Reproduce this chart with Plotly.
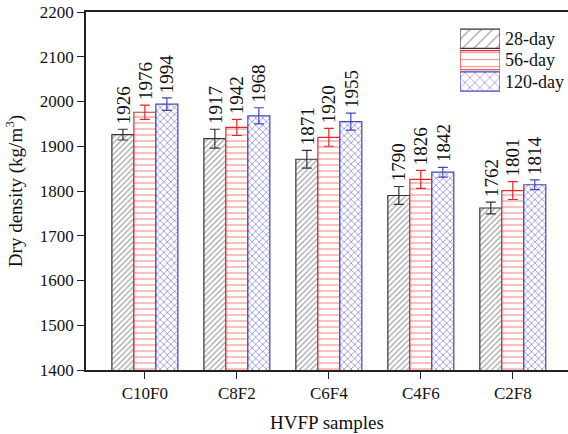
import plotly.graph_objects as go

# Sample mixes and curing ages
samples = ["C10F0", "C8F2", "C6F4", "C4F6", "C2F8"]
ages = ["28-day", "56-day", "120-day"]

# Dry density (kg/m3) per curing age
density_28 = [1926, 1917, 1871, 1790, 1762]
density_56 = [1976, 1942, 1920, 1826, 1801]
density_120 = [1994, 1968, 1955, 1842, 1814]

# Standard deviations (error bars)
err_28 = [12, 21, 20, 20, 13]
err_56 = [16, 18, 20, 20, 20]
err_120 = [14, 18, 19, 11, 11]

series = [density_28, density_56, density_120]
errors = [err_28, err_56, err_120]

line_colors = ["#333333", "#e8262a", "#4444bb"]
hatch_colors = ["#444444", "#ee2a2a", "#3535b5"]
shapes_ = ["/", "-", "x"]
bar_sizes = [4, 6, 5]
bar_solid = [0.3, 0.2, 0.32]
key_sizes = [8, 7, 7]
key_solid = [0.15, 0.16, 0.22]

FONT = "Liberation Serif"
BAR_W = 0.239
offsets = [-BAR_W, 0.0, BAR_W]

fig = go.Figure()

for i, (name, vals, errs) in enumerate(zip(ages, series, errors)):
    fig.add_trace(go.Bar(
        x=samples, y=vals, name=name, width=BAR_W,
        marker=dict(
            color="white",
            line=dict(color=line_colors[i], width=1.2),
            pattern=dict(shape=shapes_[i], fgcolor=hatch_colors[i], bgcolor="white",
                         size=bar_sizes[i], solidity=bar_solid[i], fillmode="overlay"),
        ),
        error_y=dict(type="data", array=errs, visible=True, color=line_colors[i],
                     thickness=1.2, width=5),
        showlegend=False,
    ))
    # value labels above each error bar
    for j, (v, e) in enumerate(zip(vals, errs)):
        fig.add_annotation(
            x=j + offsets[i], y=v + e, xref="x", yref="y",
            text=str(v), textangle=-90, showarrow=False,
            xanchor="center", yanchor="bottom", yshift=3,
            font=dict(family=FONT, size=19, color="#111"),
        )

# Legend swatches drawn as bars on a small overlay axis
fig.add_trace(go.Bar(
    x=[1, 1, 1], y=[0, 1, 2], base=0, orientation="h", width=0.9,
    xaxis="x2", yaxis="y2", showlegend=False, hoverinfo="skip",
    marker=dict(
        color="white",
        line=dict(color=line_colors, width=1.2),
        pattern=dict(shape=shapes_, fgcolor=hatch_colors, bgcolor="white",
                     size=key_sizes, solidity=key_solid, fillmode="overlay"),
    ),
))
for k, name in enumerate(ages):
    fig.add_annotation(
        x=0.866, y=k, xref="paper", yref="y2", text=name, showarrow=False,
        xanchor="left", yanchor="middle",
        font=dict(family=FONT, size=18, color="#111"),
    )

fig.update_layout(
    width=568, height=434,
    margin=dict(l=86, r=0, t=12, b=64),
    paper_bgcolor="white", plot_bgcolor="white",
    barmode="group", bargap=0.283, bargroupgap=0,
    font=dict(family=FONT, size=17, color="#111"),
    xaxis=dict(
        range=[-0.64, 4.6], showgrid=False, zeroline=False,
        showline=True, linecolor="#222", linewidth=1.5, mirror=True,
        ticks="outside", ticklen=7, tickwidth=1.3, tickcolor="#222",
        tickfont=dict(family=FONT, size=17),
        title=dict(text="HVFP samples", font=dict(family=FONT, size=19), standoff=14),
    ),
    yaxis=dict(
        range=[1400, 2200], dtick=100, showgrid=False, zeroline=False,
        showline=True, linecolor="#222", linewidth=1.5,
        ticks="outside", ticklen=7, tickwidth=1.3, tickcolor="#222",
        tickfont=dict(family=FONT, size=17),
        title=dict(text="Dry density (kg/m<sup>3</sup>)", font=dict(family=FONT, size=19),
                   standoff=12),
    ),
    xaxis2=dict(domain=[0.776, 0.859], range=[0, 1], visible=False,
                anchor="y2", fixedrange=True),
    yaxis2=dict(domain=[0.776, 0.955], range=[2.5, -0.5], visible=False,
                anchor="x2", fixedrange=True),
)

fig.write_html("out.html")
